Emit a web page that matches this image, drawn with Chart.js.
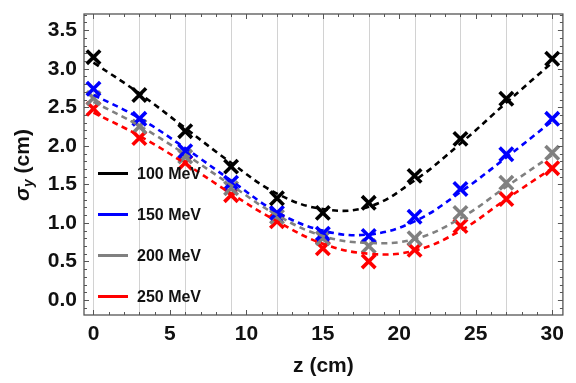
<!DOCTYPE html>
<html>
<head>
<meta charset="utf-8">
<script src="https://cdn.jsdelivr.net/npm/chart.js@4.4.1/dist/chart.umd.min.js"></script>
<style>
  html, body { margin: 0; padding: 0; background: #fff; }
  #wrap { width: 576px; height: 383px; }
</style>
</head>
<body>
<div id="wrap"><canvas id="sigmaChart"></canvas></div>
<script>
// beam size sigma_y along z, measured points + fitted curves
const zPositions = [0, 3, 6, 9, 12, 15, 18, 21, 24, 27, 30];

const sigma100 = [3.15, 2.66, 2.19, 1.73, 1.32, 1.13, 1.26, 1.61, 2.09, 2.61, 3.13];
const sigma150 = [2.74, 2.35, 1.93, 1.52, 1.13, 0.86, 0.83, 1.08, 1.44, 1.89, 2.35];
const sigma200 = [2.62, 2.25, 1.86, 1.45, 1.08, 0.80, 0.70, 0.80, 1.13, 1.52, 1.91];
const sigma250 = [2.48, 2.10, 1.78, 1.36, 1.02, 0.67, 0.50, 0.65, 0.96, 1.31, 1.71];

// fitted curves
const fit100 = [3.08, 2.68, 2.23, 1.78, 1.38, 1.18, 1.21, 1.55, 2.03, 2.56, 3.08];
const fit150 = [2.66, 2.36, 1.97, 1.55, 1.14, 0.90, 0.85, 1.02, 1.40, 1.85, 2.32];
const fit200 = [2.57, 2.26, 1.89, 1.49, 1.10, 0.83, 0.74, 0.79, 1.06, 1.47, 1.88];
const fit250 = [2.43, 2.13, 1.77, 1.38, 1.02, 0.73, 0.60, 0.64, 0.90, 1.31, 1.71];

const seriesLabels = ['100 MeV', '150 MeV', '200 MeV', '250 MeV'];
const seriesColors = ['#000000', '#0000ff', '#808080', '#ff0000'];

const xTicks = [0, 5, 10, 15, 20, 25, 30];
const yTicks = [0.0, 0.5, 1.0, 1.5, 2.0, 2.5, 3.0, 3.5];
const gridZ = zPositions;

const toXY = (ys) => ys.map((y, i) => ({x: zPositions[i], y: y}));

const measured = [sigma100, sigma150, sigma200, sigma250];
const fits = [fit100, fit150, fit200, fit250];

const datasets = [];
fits.forEach((f, i) => {
  datasets.push({
    label: seriesLabels[i] + ' fit',
    data: toXY(f),
    borderColor: seriesColors[i],
    borderWidth: 2.6,
    borderDash: [6, 4.5],
    pointRadius: 0,
    tension: 0.4,
    fill: false
  });
});
measured.forEach((m, i) => {
  datasets.push({
    label: seriesLabels[i],
    data: toXY(m),
    showLine: false,
    pointStyle: 'crossRot',
    pointRadius: 9.5,
    pointBorderWidth: 3.6,
    pointBorderColor: seriesColors[i],
    pointBackgroundColor: seriesColors[i],
    borderColor: seriesColors[i]
  });
});

// vertical grid lines + frame + inward ticks (Mathematica style)
const frameAndTicks = {
  id: 'frameAndTicks',
  beforeDatasetsDraw(chart) {
    const {ctx, chartArea: a, scales: {x, y}} = chart;
    ctx.save();
    ctx.strokeStyle = '#d2d2d2';
    ctx.lineWidth = 1;
    gridZ.forEach(z => {
      const px = Math.round(x.getPixelForValue(z)) + 0.5;
      ctx.beginPath();
      ctx.moveTo(px, a.top);
      ctx.lineTo(px, a.bottom);
      ctx.stroke();
    });
    ctx.restore();
  },
  afterDatasetsDraw(chart) {
    const {ctx, chartArea: a, scales: {x, y}} = chart;
    ctx.save();
    ctx.strokeStyle = '#555';
    ctx.lineWidth = 1.3;
    ctx.strokeRect(a.left, a.top, a.right - a.left, a.bottom - a.top);
    ctx.lineWidth = 1;
    // x ticks every 1, major every 5
    for (let v = 0; v <= 30; v++) {
      const px = Math.round(x.getPixelForValue(v)) + 0.5;
      const len = v % 5 === 0 ? 5 : 3;
      ctx.beginPath();
      ctx.moveTo(px, a.bottom); ctx.lineTo(px, a.bottom - len);
      ctx.moveTo(px, a.top); ctx.lineTo(px, a.top + len);
      ctx.stroke();
    }
    // y ticks every 0.1, major every 0.5
    for (let k = -1; k <= 37; k++) {
      const py = Math.round(y.getPixelForValue(k / 10)) + 0.5;
      const len = k % 5 === 0 ? 5 : 3;
      ctx.beginPath();
      ctx.moveTo(a.left, py); ctx.lineTo(a.left + len, py);
      ctx.moveTo(a.right, py); ctx.lineTo(a.right - len, py);
      ctx.stroke();
    }
    ctx.restore();
  },
  afterDraw(chart) {
    const {ctx} = chart;
    ctx.save();
    // legend inside the plot
    ctx.textBaseline = 'middle';
    ctx.textAlign = 'left';
    ctx.font = 'bold 16px "Liberation Sans", Arial, sans-serif';
    seriesLabels.forEach((lab, i) => {
      const ly = 173.5 + i * 41;
      ctx.strokeStyle = seriesColors[i];
      ctx.lineWidth = 3;
      ctx.beginPath();
      ctx.moveTo(98, ly); ctx.lineTo(128, ly);
      ctx.stroke();
      ctx.fillStyle = '#111';
      ctx.fillText(lab, 137, ly + 1);
    });
    // y axis title: sigma_y (cm)
    ctx.translate(23, 165);
    ctx.rotate(-Math.PI / 2);
    const big = 'bold italic 21px "Liberation Sans", Arial, sans-serif';
    const small = 'bold italic 14px "Liberation Sans", Arial, sans-serif';
    const norm = 'bold 21px "Liberation Sans", Arial, sans-serif';
    ctx.font = big; const w1 = ctx.measureText('σ').width;
    ctx.font = small; const w2 = ctx.measureText('y').width;
    ctx.font = norm; const w3 = ctx.measureText(' (cm)').width;
    let sx = -(w1 + w2 + w3) / 2;
    ctx.fillStyle = '#111';
    ctx.font = big; ctx.fillText('σ', sx, 0); sx += w1;
    ctx.font = small; ctx.fillText('y', sx, 6); sx += w2;
    ctx.font = norm; ctx.fillText(' (cm)', sx, 0);
    ctx.restore();
  }
};

new Chart(document.getElementById('sigmaChart'), {
  type: 'line',
  data: {datasets: datasets},
  options: {
    responsive: true,
    maintainAspectRatio: false,
    animation: false,
    layout: {padding: {top: 14, right: 5, left: 0, bottom: 0}},
    plugins: {
      legend: {display: false},
      tooltip: {enabled: false}
    },
    scales: {
      x: {
        type: 'linear',
        min: -0.62,
        max: 30.7,
        grid: {display: false, drawTicks: false},
        border: {display: false},
        afterBuildTicks: s => { s.ticks = xTicks.map(v => ({value: v})); },
        afterFit: s => { s.height = 68; s.paddingLeft = 0; s.paddingRight = 0; },
        ticks: {
          color: '#111',
          padding: 7,
          maxRotation: 0,
          font: {family: '"Liberation Sans", Arial, sans-serif', size: 21, weight: 'bold'}
        },
        title: {
          display: true,
          text: 'z (cm)',
          color: '#111',
          padding: {top: 4},
          font: {family: '"Liberation Sans", Arial, sans-serif', size: 21, weight: 'bold'}
        }
      },
      y: {
        min: -0.195,
        max: 3.71,
        grid: {display: false, drawTicks: false},
        border: {display: false},
        afterBuildTicks: s => { s.ticks = yTicks.map(v => ({value: v})); },
        afterFit: s => { s.width = 84; s.paddingTop = 0; s.paddingBottom = 0; },
        ticks: {
          color: '#111',
          padding: 7,
          callback: v => v.toFixed(1),
          font: {family: '"Liberation Sans", Arial, sans-serif', size: 21, weight: 'bold'}
        }
      }
    }
  },
  plugins: [frameAndTicks]
});
</script>
</body>
</html>
